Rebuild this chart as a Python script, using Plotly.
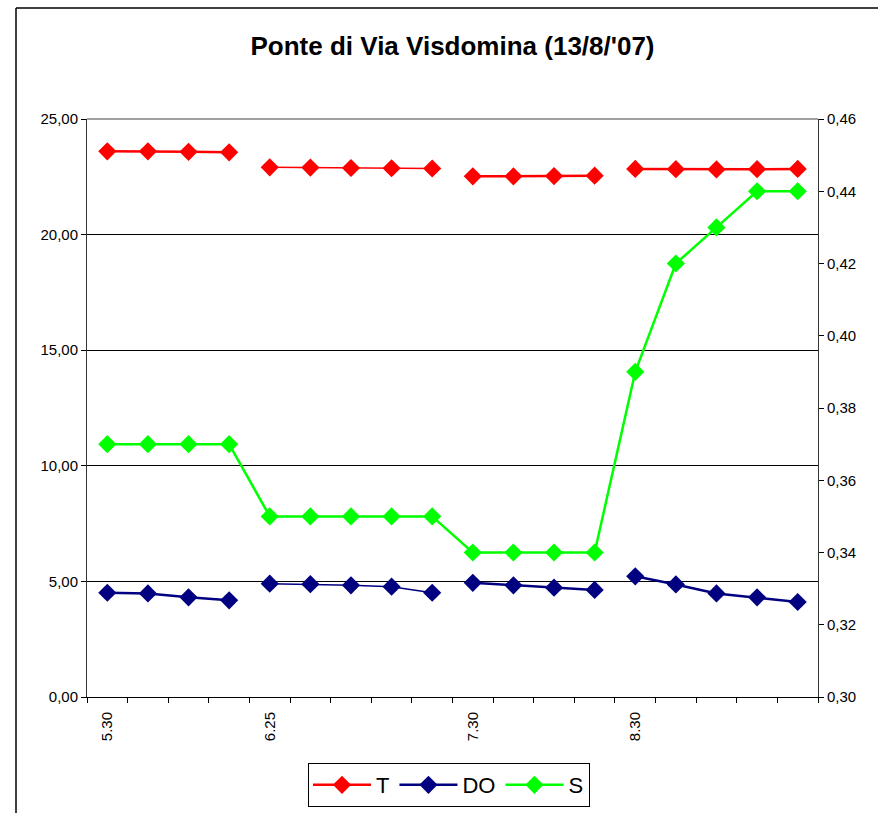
import plotly.graph_objects as go

# Sampling times along the category axis (only the start of each block is labelled)
times = ["5.30", "", "", "", "6.25", "", "", "", "", "7.30", "", "", "", "8.30", "", "", "", ""]

# Measurement blocks (index ranges into the series)
blocks = [(0, 4), (4, 9), (9, 13), (13, 18)]

# Temperature (left axis)
T = [23.60, 23.60, 23.58, 23.56,
     22.91, 22.90, 22.88, 22.87, 22.86,
     22.52, 22.52, 22.53, 22.55,
     22.84, 22.83, 22.82, 22.83, 22.84]

# Dissolved oxygen (left axis)
DO = [4.51, 4.48, 4.31, 4.18,
      4.90, 4.88, 4.83, 4.77, 4.51,
      4.94, 4.83, 4.73, 4.63,
      5.22, 4.87, 4.48, 4.31, 4.11]

# Salinity (right axis)
S = [0.37, 0.37, 0.37, 0.37,
     0.35, 0.35, 0.35, 0.35, 0.35,
     0.34, 0.34, 0.34, 0.34,
     0.39, 0.42, 0.43, 0.44, 0.44]

FONT = "Liberation Sans, Arial, sans-serif"
RED, NAVY, LIME = "#FF0000", "#000080", "#00FF00"

x = list(range(len(times)))
fig = go.Figure()

# T and DO are drawn block by block so the lines break between blocks
for name, vals, color in (("T", T, RED), ("DO", DO, NAVY)):
    for bi, (a, b) in enumerate(blocks):
        fig.add_trace(go.Scatter(
            x=x[a:b], y=vals[a:b], name=name, legendgroup=name,
            showlegend=(bi == 0), mode="lines+markers",
            line=dict(color=color, width=1.5 if bi == 1 else 2.5),
            marker=dict(symbol="diamond", size=14, color=color),
            yaxis="y",
        ))

fig.add_trace(go.Scatter(
    x=x, y=S, name="S", mode="lines+markers",
    line=dict(color=LIME, width=2.5),
    marker=dict(symbol="diamond", size=14, color=LIME),
    yaxis="y2",
))

W, H = 878, 813
L, R, Tm, B = 87, 60, 119, 116
pw, ph = W - L - R, H - Tm - B

fig.update_layout(
    width=W, height=H,
    margin=dict(l=L, r=R, t=Tm, b=B, autoexpand=False),
    paper_bgcolor="white", plot_bgcolor="white",
    separators=",.",
    font=dict(family=FONT, size=15, color="black"),
    title=dict(text="<b>Ponte di Via Visdomina (13/8/'07)</b>",
               x=0.5, xref="paper", xanchor="center",
               y=1 - 46 / H, yanchor="middle",
               font=dict(family=FONT, size=26, color="black")),
    xaxis=dict(
        range=[-0.5, len(times) - 0.5],
        tickmode="array", tickvals=x, ticktext=times,
        tickangle=-90, ticks="", showgrid=False, zeroline=False,
        showline=True, linecolor="black", linewidth=1,
        tickfont=dict(size=15), ticklabelstandoff=8, automargin=False,
        minor=dict(tickmode="array",
                   tickvals=[i - 0.5 for i in range(len(times) + 1)],
                   ticks="outside", ticklen=5, tickcolor="black", showgrid=False),
    ),
    yaxis=dict(
        range=[0, 25], dtick=5, tickformat=".2f", automargin=False,
        ticks="outside", ticklen=5, tickcolor="black",
        showline=True, linecolor="#333333", linewidth=1,
        showgrid=True, gridcolor="black", gridwidth=1, zeroline=False,
    ),
    yaxis2=dict(
        range=[0.30, 0.46], dtick=0.02, tickformat=".2f", automargin=False,
        overlaying="y", side="right",
        ticks="outside", ticklen=5, tickcolor="black",
        showline=True, linecolor="#333333", linewidth=1,
        showgrid=False, zeroline=False,
    ),
    legend=dict(
        orientation="h", x=(449 - L) / pw, xanchor="center",
        y=(697 - 763) / ph, yanchor="top",
        bgcolor="white", bordercolor="black", borderwidth=1,
        font=dict(family=FONT, size=22, color="black"),
        itemwidth=58, tracegroupgap=0,
    ),
    shapes=[
        # grey top edge of the plot area
        dict(type="line", xref="paper", yref="paper", x0=0, x1=1, y0=1, y1=1,
             line=dict(color="#808080", width=1.5), layer="above"),
        # outer chart frame (top and left edges)
        dict(type="line", xref="paper", yref="paper",
             x0=(16 - L) / pw, x1=(W + 20 - L) / pw,
             y0=(697 - 8) / ph, y1=(697 - 8) / ph,
             line=dict(color="black", width=1.5)),
        dict(type="line", xref="paper", yref="paper",
             x0=(16 - L) / pw, x1=(16 - L) / pw,
             y0=(697 - 8) / ph, y1=(697 - H - 20) / ph,
             line=dict(color="black", width=1.5)),
    ],
)

fig.write_html("out.html")
